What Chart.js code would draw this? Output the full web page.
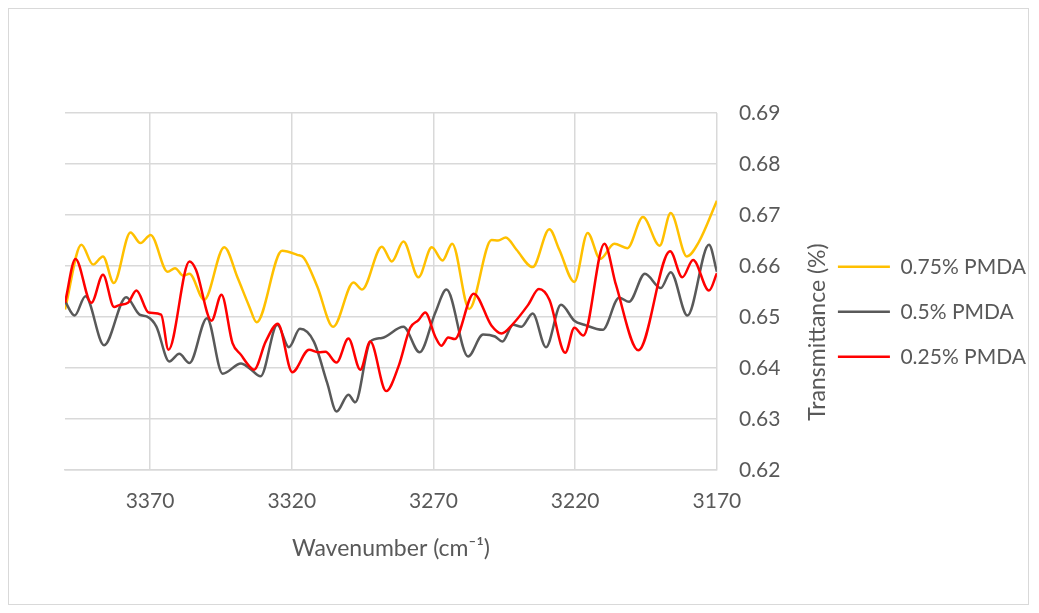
<!DOCTYPE html>
<html>
<head>
<meta charset="utf-8">
<script src="https://cdn.jsdelivr.net/npm/chart.js@4"></script>
<style>
  html, body { margin: 0; padding: 0; background: #ffffff; }
  #frame { position: absolute; left: 8px; top: 8px; width: 1021px; height: 597px; border: 1px solid #d9d9d9; box-sizing: border-box; }
  #c { position: absolute; left: 0; top: 0; }
</style>
</head>
<body>
<div id="frame"></div>
<canvas id="c" width="1039" height="613"></canvas>
<script>
// ---- data ----
const seriesNames = ['0.75% PMDA', '0.5% PMDA', '0.25% PMDA'];
const seriesColors = ['#FFC000', '#595959', '#FF0000'];
const xTicks = [3370, 3320, 3270, 3220, 3170];
const yTicks = [0.62, 0.63, 0.64, 0.65, 0.66, 0.67, 0.68, 0.69];

const yellowX = [3400,3394.2,3390.1,3386.6,3382.8,3376.9,3373.4,3369.8,3363.8,3361.2,3358.2,3356.1,3350.9,3343.8,3339.1,3335,3332.4,3323.4,3318.1,3315.7,3311,3305.4,3298.2,3295.2,3288.2,3284.7,3280.6,3275.3,3270.6,3266.8,3263.4,3257.4,3249.5,3247.2,3244.5,3240.7,3235,3229.1,3225.6,3220.3,3215.6,3211.2,3206.2,3201.6,3196.1,3190.2,3186.3,3180.6,3176.3,3170];
const yellowY = [0.6515,0.6642,0.6603,0.6619,0.6567,0.6666,0.6645,0.6661,0.6589,0.6596,0.6581,0.6585,0.6534,0.6637,0.6577,0.6521,0.6490,0.6630,0.6622,0.6616,0.6560,0.6481,0.6568,0.6554,0.6638,0.6609,0.6648,0.6578,0.6637,0.6611,0.6644,0.6516,0.6651,0.6650,0.6656,0.6632,0.6598,0.6672,0.6632,0.6569,0.6665,0.6614,0.6644,0.6635,0.6696,0.6640,0.6704,0.6619,0.6648,0.6728];

const grayX = [3400,3396.6,3392.8,3386.2,3378.4,3373.7,3371,3367.8,3363.2,3359.7,3356.1,3349.9,3344.4,3337.9,3335,3331,3325.1,3321,3317.1,3312.2,3307.5,3304.2,3300,3297.6,3292.3,3288.2,3280.6,3274.9,3269.4,3265.4,3257.8,3252.5,3248.3,3245.7,3241.9,3239,3235,3230.3,3225,3220.3,3216.8,3210.3,3204.5,3201,3195.4,3189.8,3186.3,3180.4,3172.8,3170];
const grayY = [0.6531,0.6503,0.6541,0.6445,0.6539,0.6505,0.6501,0.6482,0.6413,0.6428,0.6410,0.6498,0.6389,0.6409,0.6400,0.6384,0.6485,0.6441,0.6477,0.6452,0.6371,0.6315,0.6348,0.6333,0.6452,0.6459,0.6481,0.6431,0.6508,0.6554,0.6423,0.6466,0.6462,0.6452,0.6485,0.6481,0.6507,0.6441,0.6524,0.6493,0.6485,0.6475,0.6538,0.6530,0.6585,0.6557,0.6588,0.6503,0.6642,0.6589];

const redX = [3400,3396.3,3390.7,3386.6,3382.7,3380.7,3377.8,3374.8,3370.5,3366.1,3363.5,3356.1,3353.8,3348.3,3344.8,3340.9,3337.9,3335,3333.3,3329.2,3324.9,3319.8,3313.9,3310.4,3308.1,3304.2,3300,3295.8,3292.3,3286.7,3282.3,3278.2,3275.3,3272.9,3269.4,3267.2,3264.8,3262.5,3255.8,3249.5,3246,3241.9,3236.6,3232.8,3229.1,3223.5,3220.3,3217.1,3209.7,3205.6,3197.7,3186.5,3182.2,3178.4,3172.8,3170];
const redY = [0.6528,0.6614,0.6528,0.6583,0.6520,0.6524,0.6528,0.6552,0.6509,0.6505,0.6436,0.6609,0.6593,0.6493,0.6544,0.6449,0.6426,0.6404,0.6397,0.6452,0.6487,0.6392,0.6436,0.6431,0.6432,0.6411,0.6458,0.6397,0.6452,0.6355,0.6404,0.6479,0.6494,0.6509,0.6462,0.6444,0.6460,0.6457,0.6546,0.6483,0.6468,0.6487,0.6524,0.6555,0.6534,0.6430,0.6479,0.6464,0.6644,0.6563,0.6435,0.6629,0.6578,0.6612,0.6552,0.6586];

const xTitle = 'Wavenumber (cm\u207B\u00B9)';
const yTitle = 'Transmittance (%)';

// ---- chart ----
const TEXT = '#595959';
const GRID = '#d9d9d9';
const FONT = 'Lato, "Open Sans", sans-serif';

function pts(xs, ys) { return xs.map((x, i) => ({ x: x, y: ys[i] })); }
const allX = [yellowX, grayX, redX];
const allY = [yellowY, grayY, redY];

const datasets = seriesNames.map((name, i) => ({
  label: name,
  data: pts(allX[i], allY[i]),
  borderColor: seriesColors[i],
  backgroundColor: seriesColors[i],
  borderWidth: 2.5,
  pointRadius: 0,
  pointHoverRadius: 0,
  cubicInterpolationMode: 'monotone',
  fill: false,
  order: 3 - i
}));

const yTitlePlugin = {
  id: 'yTitlePlugin',
  afterDraw(chart) {
    const ctx = chart.ctx;
    ctx.save();
    ctx.translate(818, 332);
    ctx.rotate(-Math.PI / 2);
    ctx.font = '23px ' + FONT;
    ctx.fillStyle = TEXT;
    ctx.textAlign = 'center';
    ctx.textBaseline = 'middle';
    ctx.fillText(yTitle, 0, 0);
    ctx.restore();
  }
};

new Chart(document.getElementById('c'), {
  type: 'line',
  data: { datasets: datasets },
  plugins: [yTitlePlugin],
  options: {
    responsive: false,
    animation: false,
    devicePixelRatio: 1,
    layout: { padding: { left: 65, top: 113, right: 3, bottom: 0 } },
    plugins: {
      tooltip: { enabled: false },
      legend: {
        position: 'right',
        fullSize: false,
        align: 'center',
        title: { display: true, text: ' ', font: { size: 10 }, padding: { top: 28.4, bottom: 0 } },
        labels: {
          boxWidth: 52,
          boxHeight: 0,
          padding: 24,
          color: TEXT,
          font: { family: FONT, size: 21 },
          sort: (a, b) => a.datasetIndex - b.datasetIndex
        }
      }
    },
    scales: {
      x: {
        type: 'linear',
        position: 'bottom',
        reverse: true,
        min: 3170,
        max: 3400,
        afterBuildTicks: (scale) => { scale.ticks = xTicks.map(v => ({ value: v })); },
        ticks: { color: TEXT, font: { family: FONT, size: 21 }, padding: 18, maxRotation: 0, callback: (v) => String(v) },
        grid: { color: GRID, lineWidth: 1.5, drawTicks: false },
        border: { display: true, color: GRID, width: 1.5 },
        title: { display: true, text: xTitle, color: TEXT, font: { family: FONT, size: 23 }, padding: { top: 3, bottom: 51 } }
      },
      y: {
        type: 'linear',
        position: 'right',
        min: 0.62,
        max: 0.69,
        afterBuildTicks: (scale) => { scale.ticks = yTicks.map(v => ({ value: v })); },
        afterFit: (scale) => { scale.width = 97; },
        ticks: { color: TEXT, font: { family: FONT, size: 21 }, padding: 22, callback: (v) => Number(v).toFixed(2) },
        grid: { color: GRID, lineWidth: 1.5, drawTicks: false },
        border: { display: false }
      }
    }
  }
});
</script>
</body>
</html>
